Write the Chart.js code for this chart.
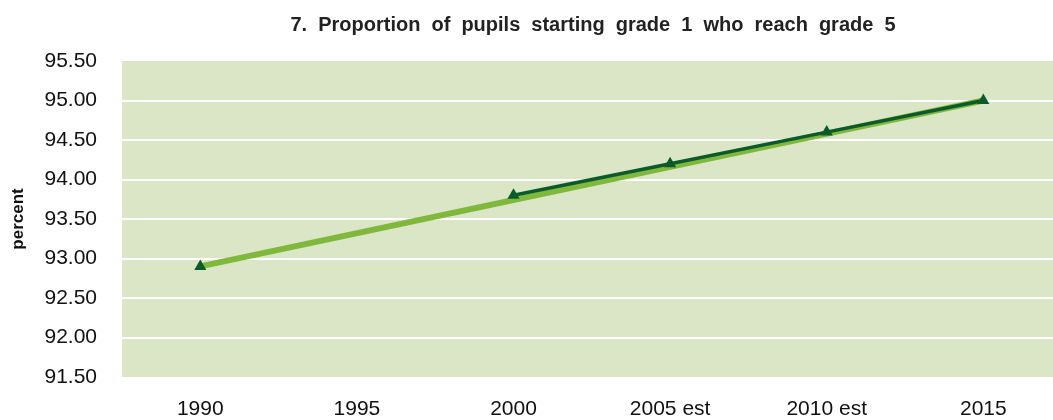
<!DOCTYPE html>
<html>
<head>
<meta charset="utf-8">
<script src="https://cdn.jsdelivr.net/npm/chart.js@4.4.1/dist/chart.umd.min.js"></script>
<style>
html,body{margin:0;padding:0;background:#fff;}
#wrap{width:1053px;height:420px;}
</style>
</head>
<body>
<div id="wrap"><canvas id="c" width="1053" height="420"></canvas></div>
<script>
const categories = ["1990", "1995", "2000", "2005 est", "2010 est", "2015"];
const targetPath = [92.9, null, null, null, null, 95.0];
const actual = [92.9, null, 93.8, 94.2, 94.6, 95.0];
const yTicks = [91.5, 92.0, 92.5, 93.0, 93.5, 94.0, 94.5, 95.0, 95.5];
const chartTitle = '7. Proportion of pupils starting grade 1 who reach grade 5';

const toPoints = arr => arr.map((v, i) => ({x: i, y: v}));

const bgPlugin = {
  id: 'bg',
  beforeDraw(chart) {
    const {ctx, chartArea: a} = chart;
    ctx.save();
    ctx.fillStyle = '#dbe6c7';
    ctx.fillRect(a.left, a.top, a.right - a.left, a.bottom - a.top);
    ctx.restore();
  }
};

const titlePlugin = {
  id: 'customTitle',
  afterDraw(chart) {
    const ctx = chart.ctx;
    ctx.save();
    ctx.font = 'bold 20px "Liberation Sans"';
    ctx.fillStyle = '#222';
    ctx.textAlign = 'center';
    ctx.textBaseline = 'middle';
    if ('wordSpacing' in ctx) ctx.wordSpacing = '5.5px';
    ctx.fillText(chartTitle, 593, 25);
    ctx.restore();
  }
};

new Chart(document.getElementById('c'), {
  type: 'line',
  data: {
    datasets: [
      {
        label: 'target',
        data: toPoints(targetPath),
        borderColor: '#80b83c',
        borderWidth: 6,
        pointRadius: 0,
        spanGaps: true,
        order: 2
      },
      {
        label: 'actual',
        data: toPoints(actual),
        borderColor: '#0b5a2b',
        backgroundColor: '#0b5a2b',
        borderWidth: 3.5,
        pointStyle: 'triangle',
        pointRadius: 7,
        pointBorderWidth: 0,
        spanGaps: false,
        order: 1
      }
    ]
  },
  plugins: [bgPlugin, titlePlugin],
  options: {
    responsive: false,
    animation: false,
    layout: {autoPadding: false, padding: {left: 0, right: 0, top: 61, bottom: 0}},
    plugins: {
      legend: {display: false},
      tooltip: {enabled: false},
      title: {display: false}
    },
    scales: {
      x: {
        type: 'linear',
        min: -0.5,
        max: 5.445,
        afterBuildTicks(s) { s.ticks = categories.map((c, i) => ({value: i})); },
        grid: {display: false, drawTicks: false},
        border: {display: false},
        ticks: {
          color: '#111',
          font: {family: 'Liberation Sans', size: 21},
          padding: 20,
          maxRotation: 0,
          autoSkip: false,
          callback: v => categories[v]
        },
        afterFit(s) { s.height = 43; s.paddingLeft = 0; s.paddingRight = 0; }
      },
      y: {
        min: 91.5,
        max: 95.5,
        afterBuildTicks(s) { s.ticks = yTicks.map(v => ({value: v})); },
        grid: {
          color: ctx => (ctx.tick && (ctx.tick.value === 91.5 || ctx.tick.value === 95.5)) ? 'rgba(0,0,0,0)' : '#ffffff',
          lineWidth: 2,
          drawTicks: false
        },
        border: {display: false},
        ticks: {
          color: '#111',
          font: {family: 'Liberation Sans', size: 21},
          padding: 25,
          callback: v => Number(v).toFixed(2)
        },
        title: {
          display: true,
          text: 'percent',
          color: '#111',
          font: {family: 'Liberation Sans', size: 17, weight: 'bold'},
          padding: {top: 8, bottom: 0}
        },
        afterFit(s) { s.width = 122; }
      }
    }
  }
});
</script>
</body>
</html>
